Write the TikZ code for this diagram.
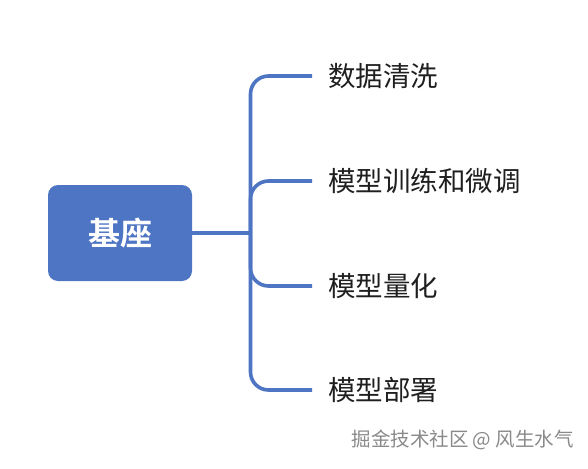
\documentclass[tikz,border=0pt]{standalone}
\usepackage{fontspec}
\newfontfamily\cjk{Noto Sans CJK SC}
\newfontfamily\cjkb{Noto Sans CJK SC Bold}
\definecolor{mblue}{HTML}{4E74C4}
\definecolor{wm}{HTML}{8A8A8A}
\begin{document}
\begin{tikzpicture}[x=1pt,y=-1pt,
  conn/.style={draw=mblue,line width=3.6pt,rounded corners=18pt},
  rootbox/.style={fill=mblue,rounded corners=10pt,minimum width=144pt,minimum height=96pt,inner sep=0pt,
    text=white,font=\cjkb\fontsize{32}{36}\selectfont},
  leaf/.style={anchor=west,inner xsep=16pt,inner ysep=2pt,text=black!88,font=\cjk\fontsize{27.5}{31}\selectfont}]
\useasboundingbox[fill=white] (0,0) rectangle (588,468);
\node[rootbox] (root) at (120,233) {基座};
\coordinate (hub) at (250.5,233);
\node[leaf] (l1) at (312,76) {数据清洗};
\node[leaf] (l2) at (312,181) {模型训练和微调};
\node[leaf] (l3) at (312,286) {模型量化};
\node[leaf] (l4) at (312,390) {模型部署};
\draw[conn] (root.east) -- (hub);
\draw[conn] (l1.west) -| (hub) |- (l4.west);
\draw[conn] (l2.west) -| (hub);
\draw[conn] (l3.west) -| (hub);
\node[anchor=east,inner sep=0pt,text=wm,font=\cjk\fontsize{19.5}{22}\selectfont] (wmk) at (574,440) {掘金技术社区 @ 风生水气};
\end{tikzpicture}
\end{document}
